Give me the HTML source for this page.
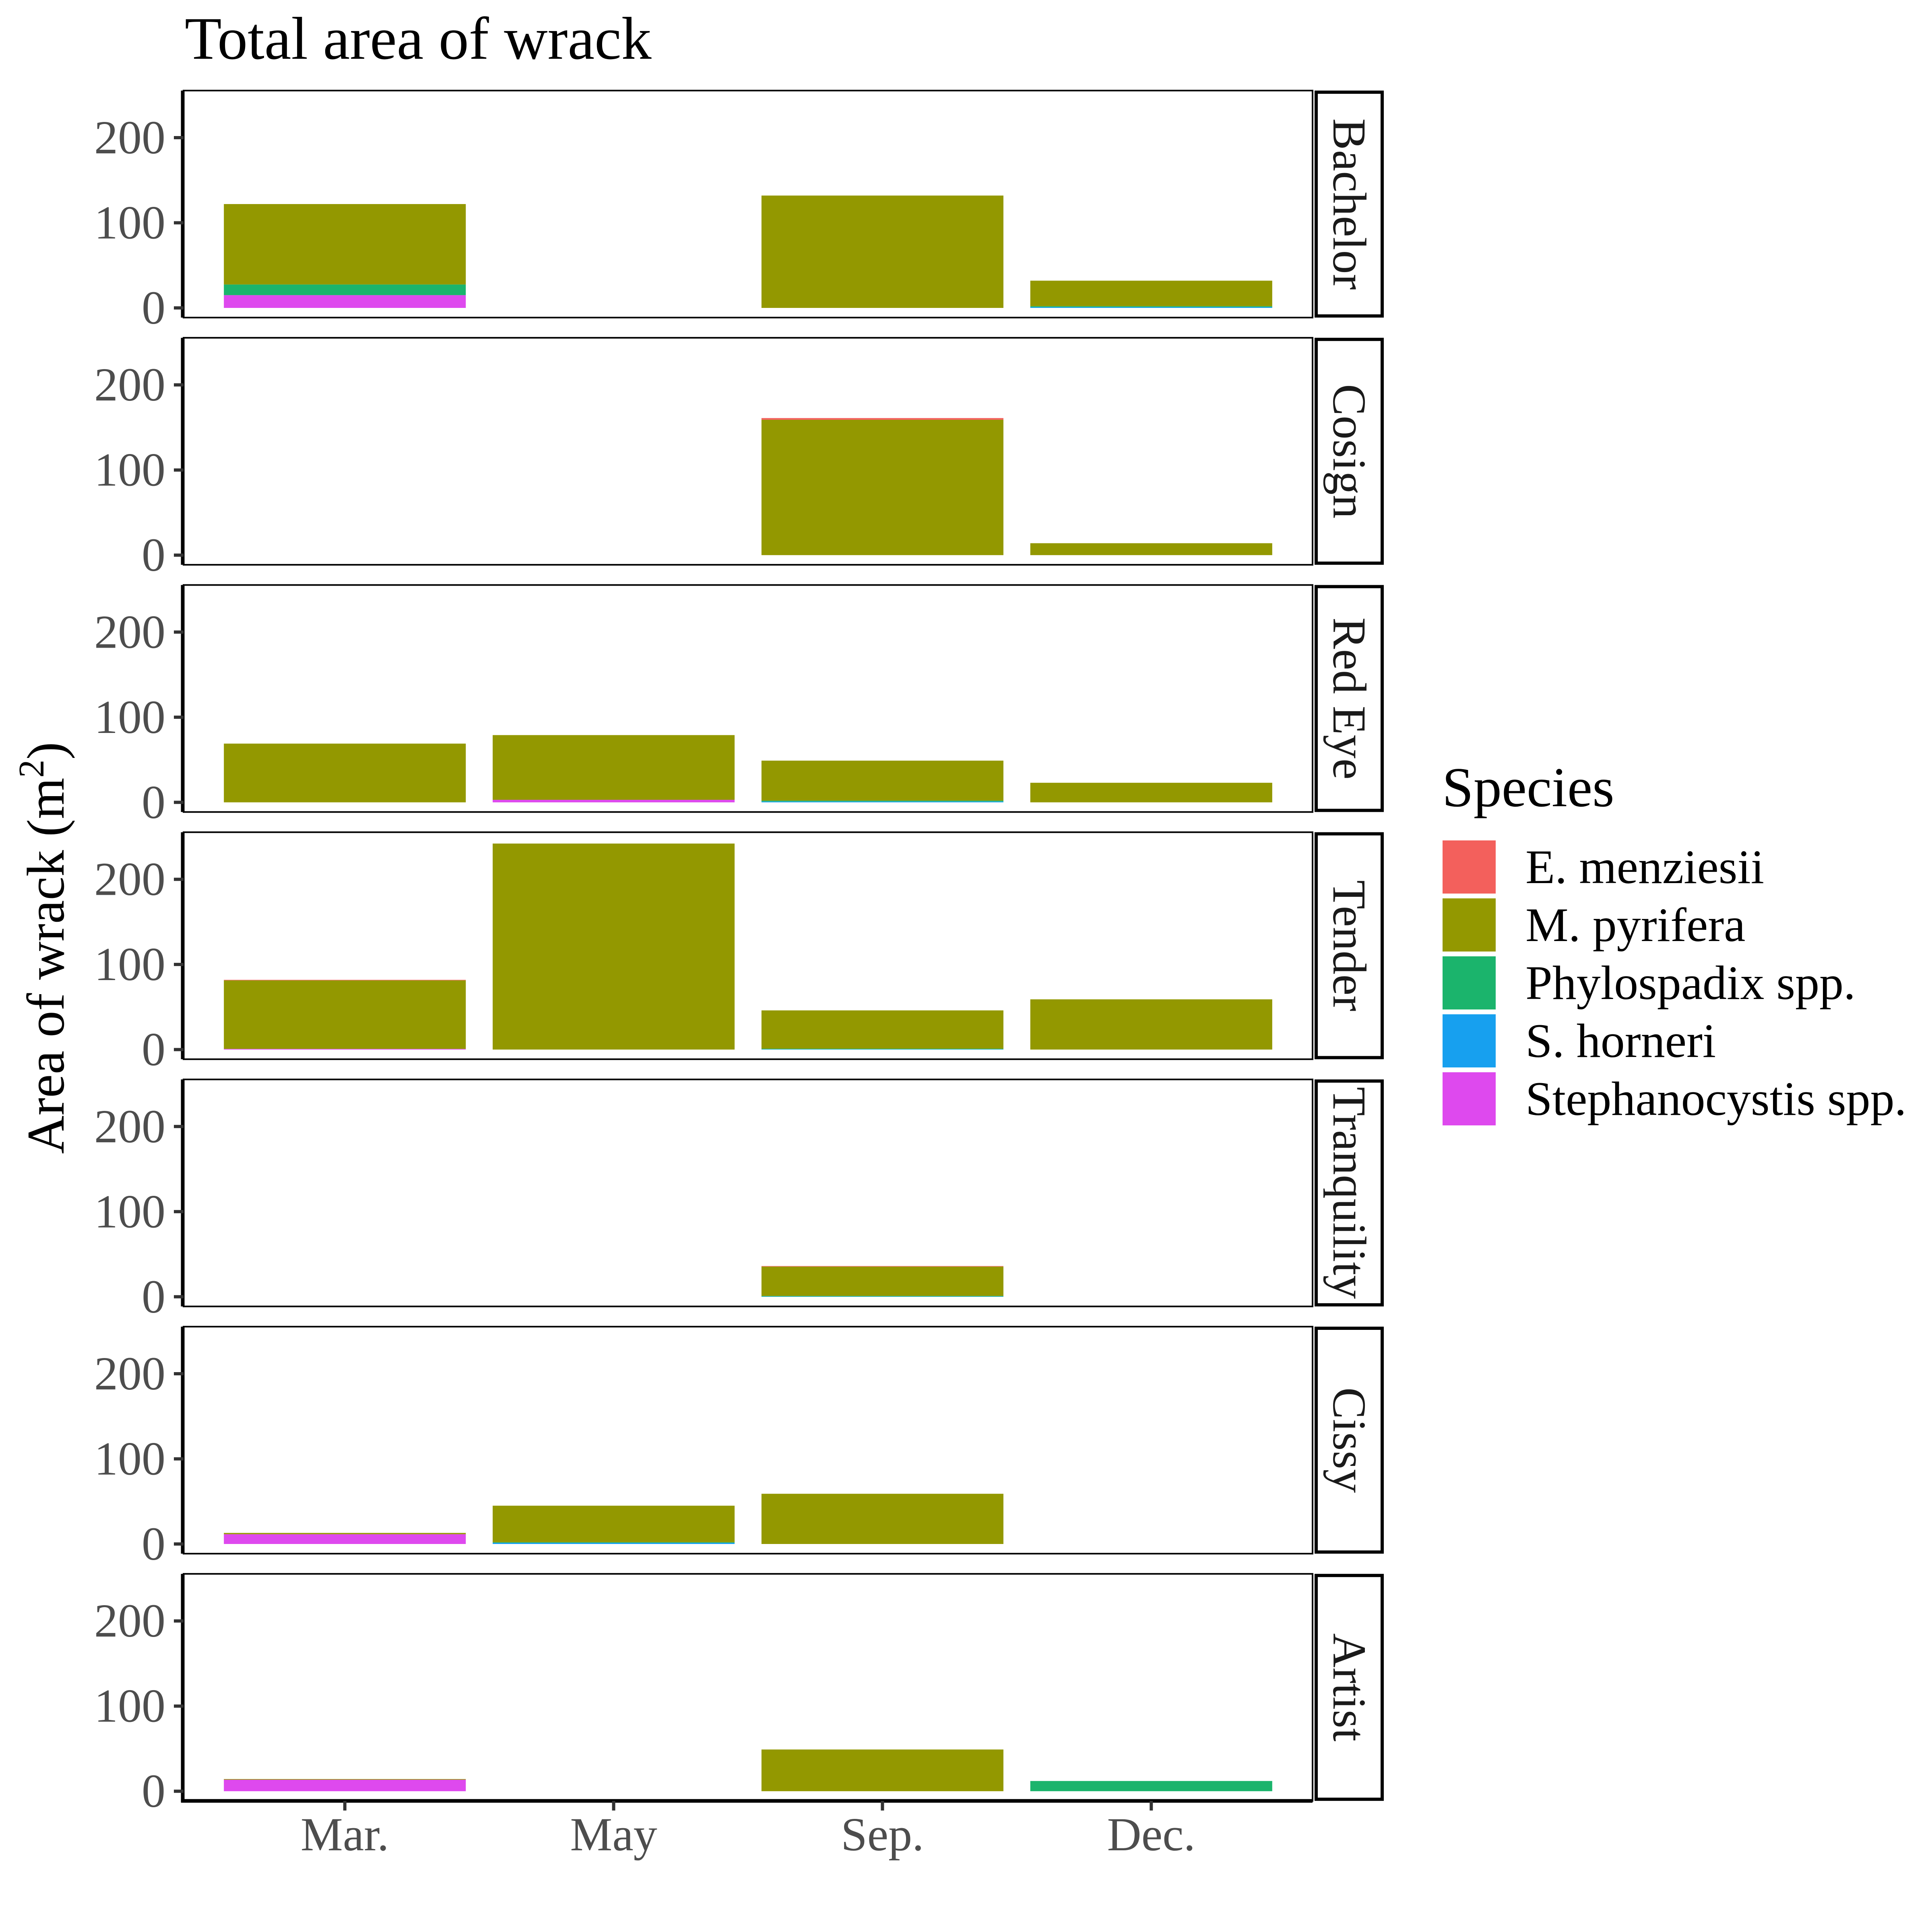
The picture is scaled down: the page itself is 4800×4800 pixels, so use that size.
<!DOCTYPE html>
<html><head><meta charset="utf-8"><style>html,body{margin:0;padding:0;background:#fff}svg{display:block}text{font-family:"Liberation Serif","DejaVu Serif",serif}</style></head>
<body>
<svg id="chart" width="4800" height="4800" viewBox="0 0 4800 4800" xmlns="http://www.w3.org/2000/svg">
<rect width="4800" height="4800" fill="#fff"/>
<text x="459" y="146" font-size="150" fill="#000">Total area of wrack</text>
<text transform="translate(158,2355) rotate(-90)" text-anchor="middle" font-size="132" fill="#000">Area of wrack (m<tspan dy="-50" font-size="90">2</tspan><tspan dy="50">)</tspan></text>
<g id="panels"></g>
<g id="legend"></g>
</svg>
<script>
const sites = ["Bachelor","Cosign","Red Eye","Tender","Tranquility","Cissy","Artist"];
const months = ["Mar.","May","Sep.","Dec."];
const species = ["E. menziesii","M. pyrifera","Phylospadix spp.","S. horneri","Stephanocystis spp."];
const colors = ["#F3605C","#939800","#1BB46C","#17A0EF","#DE49EE"];
const yTicks = [0,100,200];
// values per species: [site][month]
const eMenziesii = [[0,0,0,0],[0,0,2,0],[0,0,0,0],[0.6,0,0,0],[0,0,0.6,0],[0,0,0,0],[0,0,0,0]];
const mPyrifera  = [[94.5,0,132,30],[0,0,159,14],[69,76,47,23],[80.5,242,45,59],[0,0,34.5,0],[1.5,43,59,0],[0.8,0,49,0]];
const phylospadix= [[12.5,0,0,1],[0,0,0,0],[0,0,1,0],[0,0,0.6,0],[0,0,0.6,0],[0,0.6,0,0],[0,0,0,12]];
const sHorneri   = [[0,0,0,1],[0,0,0,0],[0,0,1,0],[0,0,0.4,0],[0,0,0.4,0],[0,1.4,0,0],[0,0,0,0]];
const stephano   = [[15,0,0,0],[0,0,0,0],[0,3,0,0],[0.8,0,0,0],[0,0,0,0],[11.5,0,0,0],[13.5,0,0,0]];

const NS="http://www.w3.org/2000/svg";
function mk(tag, attrs, parent){const e=document.createElementNS(NS,tag);for(const k in attrs)e.setAttribute(k,attrs[k]);parent.appendChild(e);return e;}
const PL=456, PR=3261, PH=564, TOP0=225, STEP=614.2, ZERO_OFF=540, PXU=2.115;
const bandW=(PR-PL)/4.2;
function xC(i){return PL+(0.6+i)*bandW;}
function yV(top,v){return top+ZERO_OFF-v*PXU;}
const panels=document.getElementById('panels');
const series=[eMenziesii,mPyrifera,phylospadix,sHorneri,stephano];
sites.forEach((site,s)=>{
  const top=TOP0+s*STEP;
  const g=mk('g',{},panels);
  
  
  months.forEach((m,i)=>{
    let cum=0;
    for(let k=series.length-1;k>=0;k--){
      const v=series[k][s][i];
      if(v<=0)continue;
      const y1=yV(top,cum), y2=yV(top,cum+v);
      const r=mk('rect',{x:xC(i)-bandW*0.45,y:y2,width:bandW*0.9,height:y1-y2,fill:colors[k]},g);
      
      
      cum+=v;
    }
  });
  const fr=mk('rect',{x:PL,y:top,width:PR-PL,height:PH,fill:'none',stroke:'#000','stroke-width':4},g);
  
  
  const ax=mk('line',{x1:PL-2,y1:top,x2:PL-2,y2:top+PH+(s===sites.length-1?4:0),stroke:'#000','stroke-width':9},g);
  
  
  yTicks.forEach(t=>{
    const y=yV(top,t);
    const tk=mk('line',{x1:432,y1:y,x2:PL,y2:y,stroke:'#333','stroke-width':8},g);
    
    
    const tl=mk('text',{x:411,y:y+39,'text-anchor':'end','font-size':118,fill:'#4d4d4d'},g);
    tl.textContent=t;
    
    
  });
  const st=mk('rect',{x:3270,y:top+4,width:164,height:PH-8,fill:'#fff',stroke:'#000','stroke-width':8},g);
  
  
  const stx=mk('text',{transform:'translate(3313,'+(top+PH/2)+') rotate(90)','text-anchor':'middle','font-size':118,fill:'#1a1a1a'},g);
  stx.textContent=site;
  
  
  if(s===sites.length-1){
    const bx=mk('line',{x1:PL-6,y1:top+PH,x2:PR,y2:top+PH,stroke:'#000','stroke-width':9},g);
    
    
    months.forEach((m,i)=>{
      const tk=mk('line',{x1:xC(i),y1:top+PH,x2:xC(i),y2:top+PH+24,stroke:'#333','stroke-width':8},g);
      
      
      const tl=mk('text',{x:xC(i),y:4597,'text-anchor':'middle','font-size':118,fill:'#4d4d4d'},g);
      tl.textContent=m;
      
      
    });
  }
});
const lg=document.getElementById('legend');


const lt=mk('text',{x:3583,y:2003,'font-size':140,fill:'#000'},lg);
lt.textContent='Species';


species.forEach((sp,k)=>{
  const y=2088+k*144;
  const r=mk('rect',{x:3584,y:y,width:132,height:132,fill:colors[k]},lg);
  
  
  const t=mk('text',{x:3790,y:y+106,'font-size':120,fill:'#000'},lg);
  t.textContent=sp;
  
  
});
</script>
</body></html>
